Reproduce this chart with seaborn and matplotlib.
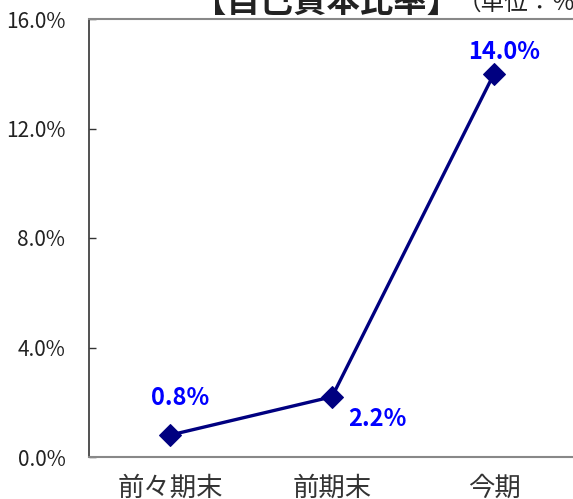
import matplotlib
matplotlib.use("Agg")
import matplotlib.pyplot as plt
import seaborn as sns
import pandas as pd

# data
periods = ["前々期末", "前期末", "今期"]
ratios = [0.8, 2.2, 14.0]
value_labels = ["0.8%", "2.2%", "14.0%"]
y_ticks = [0.0, 4.0, 8.0, 12.0, 16.0]

sns.set_theme(style="white")
plt.rcParams["font.family"] = ["Noto Sans CJK JP", "DejaVu Sans"]

df = pd.DataFrame({"period": periods, "ratio": ratios})

fig = plt.figure(figsize=(5.73, 4.99), dpi=100)
ax = fig.add_axes([89 / 573, 42 / 499, 486 / 573, 438 / 499])

sns.lineplot(data=df, x="period", y="ratio", ax=ax, color="#000080",
             linewidth=2.4, marker="D", markersize=11,
             markeredgecolor="#000080", sort=False)

ax.set_xlim(-0.5, 2.5)
ax.set_ylim(0, 16)
ax.set_yticks(y_ticks)
ax.set_yticklabels([f"{t:.1f}%" for t in y_ticks], fontsize=15, color="#222222")
ax.set_xticks(range(len(periods)))
ax.set_xticklabels(periods, fontsize=19, color="#333333")
ax.tick_params(axis="y", direction="in", length=5, width=1, color="#333333", pad=17, left=True)
ax.tick_params(axis="x", length=0, pad=13)
ax.set_xlabel("")
ax.set_ylabel("")

for side in ["top", "bottom"]:
    ax.spines[side].set_color("#888888")
    ax.spines[side].set_linewidth(1.5)
ax.spines["left"].set_color("#333333")
ax.spines["left"].set_linewidth(1.2)
ax.spines["right"].set_visible(False)

# value labels
offsets = [(7, 27), (33, -16), (7, 16)]
for i, (v, lab) in enumerate(zip(ratios, value_labels)):
    ax.annotate(lab, (i, v), xytext=offsets[i], textcoords="offset points",
                ha="center", va="center", color="#0000FF", fontsize=17,
                fontweight="bold")

# title, partly cut off at the top
fig.text(193 / 573, 1 - 12 / 499, "【自己資本比率】", fontsize=24, fontweight="bold",
         color="#222222", va="baseline", ha="left")
fig.text(458 / 573, 1 - 10 / 499, "（単位：％）", fontsize=17,
         color="#222222", va="baseline", ha="left")

fig.savefig("out.png", dpi=100)
